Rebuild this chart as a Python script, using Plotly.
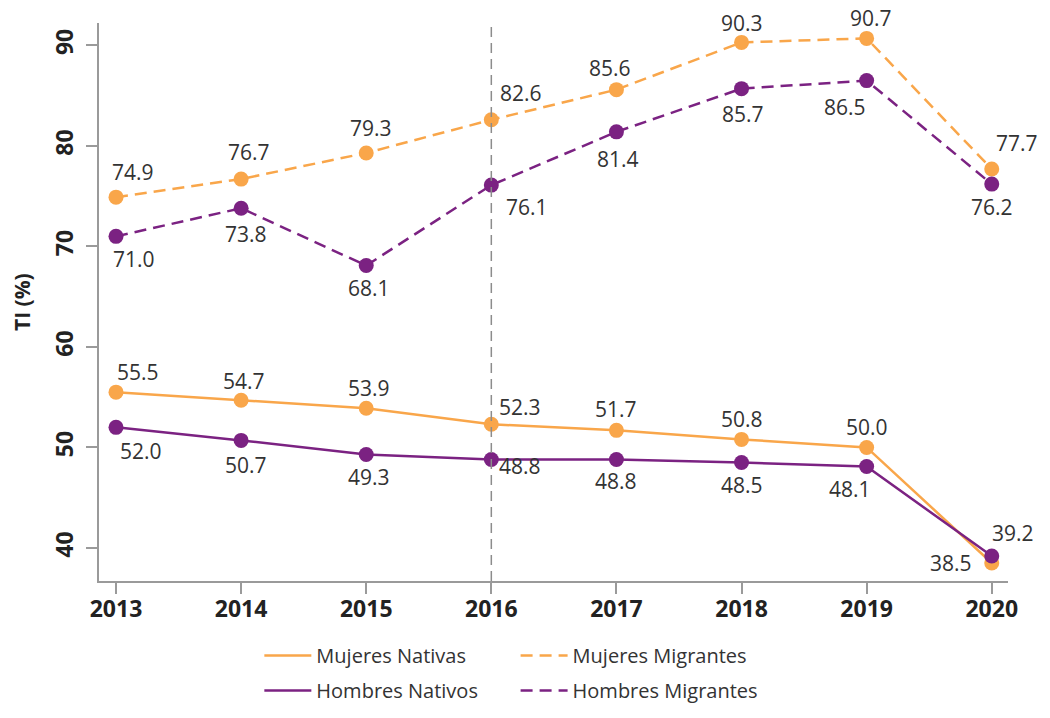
import plotly.graph_objects as go

# data
years = [2013, 2014, 2015, 2016, 2017, 2018, 2019, 2020]
mujeres_nativas = [55.5, 54.7, 53.9, 52.3, 51.7, 50.8, 50.0, 38.5]
hombres_nativos = [52.0, 50.7, 49.3, 48.8, 48.8, 48.5, 48.1, 39.2]
mujeres_migrantes = [74.9, 76.7, 79.3, 82.6, 85.6, 90.3, 90.7, 77.7]
hombres_migrantes = [71.0, 73.8, 68.1, 76.1, 81.4, 85.7, 86.5, 76.2]
y_ticks = [40, 50, 60, 70, 80, 90]

orange = "#F9A64A"
purple = "#7B2282"
grey = "#9A9A9A"

# label offsets in pixels (dx right, dy up) for each point
off_mn = [(22, 20), (3, 19), (3, 20), (29, 17), (0, 21), (0, 20), (0, 20), (-41, 0)]
off_hn = [(25, -24), (5, -25), (3, -23), (29, -7), (0, -22), (0, -22), (-17, -22), (21, 23)]
off_mm = [(17, 25), (8, 27), (5, 25), (30, 27), (-6, 22), (0, 19), (4, 20), (25, 26)]
off_hm = [(18, -23), (5, -26), (3, -22), (36, -22), (2, -27), (1, -25), (-22, -26), (0, -23)]

series = [
    ("Mujeres Nativas", mujeres_nativas, orange, "solid", "legend", off_mn),
    ("Mujeres Migrantes", mujeres_migrantes, orange, "12px,7px", "legend2", off_mm),
    ("Hombres Nativos", hombres_nativos, purple, "solid", "legend", off_hn),
    ("Hombres Migrantes", hombres_migrantes, purple, "12px,7px", "legend2", off_hm),
]

fig = go.Figure()

fig.add_vline(x=2016, line=dict(color="#8C8C8C", width=1.5, dash="10px,6px"))

for name, vals, color, dash, leg, _ in series:
    fig.add_trace(go.Scatter(
        x=years, y=vals, mode="lines", name=name,
        line=dict(color=color, width=2.5, dash=dash),
        legend=leg, legendgroup=name,
    ))
for name, vals, color, dash, leg, _ in series:
    fig.add_trace(go.Scatter(
        x=years, y=vals, mode="markers", showlegend=False,
        marker=dict(color=color, size=15),
    ))

# value labels
for name, vals, color, dash, leg, offs in series:
    for x, v, (dx, dy) in zip(years, vals, offs):
        fig.add_annotation(
            x=x, y=v, text=f"{v:.1f}", showarrow=False,
            xshift=dx, yshift=dy, xanchor="center", yanchor="middle",
            font=dict(family="Open Sans", size=21, color="#333333"),
        )

# y axis title
fig.add_annotation(
    x=0, y=0.5, xref="paper", yref="paper", text="<b>TI (%)</b>",
    showarrow=False, textangle=-90, xanchor="center", yanchor="middle",
    xshift=-77, font=dict(family="Open Sans", size=21, color="#222222"),
)

axis_common = dict(
    showgrid=False, zeroline=False, showline=True,
    linecolor=grey, linewidth=1.5,
    ticks="outside", ticklen=11, tickwidth=1.5, tickcolor=grey,
    tickfont=dict(family="Open Sans", size=23, color="#222222", weight="bold"),
)

fig.update_xaxes(
    range=[2012.864, 2020.13], tickvals=years, ticklabelstandoff=-4,
    **axis_common,
)
fig.update_yaxes(
    range=[36.71, 92.23], tickvals=y_ticks, tickangle=-90,
    ticklabelstandoff=4, **axis_common,
)

legend_common = dict(
    orientation="v", yanchor="bottom", y=-0.2312, xanchor="left",
    font=dict(family="Open Sans", size=20, color="#333333"),
    tracegroupgap=6, itemwidth=47, bgcolor="rgba(0,0,0,0)",
)

fig.update_layout(
    width=1034, height=702,
    margin=dict(l=91, r=34, t=15, b=129, autoexpand=False),
    plot_bgcolor="white", paper_bgcolor="white",
    legend=dict(x=0.1764, **legend_common),
    legend2=dict(x=0.4583, **legend_common),
)

fig.write_html("out.html")
